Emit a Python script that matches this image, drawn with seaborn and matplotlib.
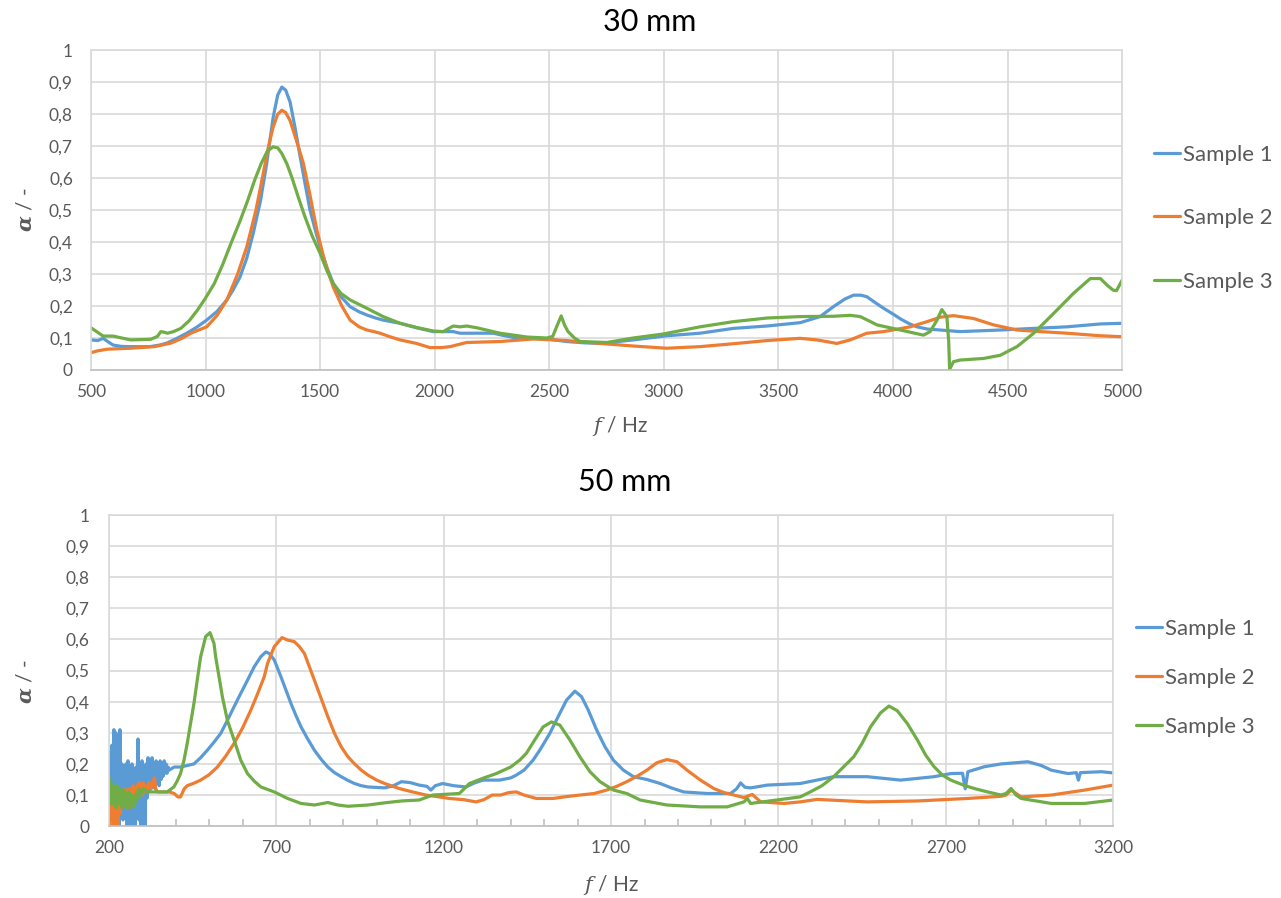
import numpy as np
import pandas as pd
import seaborn as sns
import matplotlib.pyplot as plt
from matplotlib.ticker import FuncFormatter, MultipleLocator

# ---- 30 mm ----
f30_s1 = [500, 530, 553, 575, 597, 630, 656, 757, 800, 831, 870, 918, 960, 1005, 1050, 1093, 1120, 1150, 1180,
          1208, 1240, 1267, 1295, 1315, 1333, 1350, 1369, 1390, 1413, 1435, 1456, 1480, 1500, 1530, 1557, 1590,
          1631, 1670, 1704, 1740, 1775, 1849, 1921, 1994, 2081, 2110, 2140, 2256, 2300, 2358, 2490, 2576, 2650,
          2723, 2866, 3012, 3158, 3302, 3450, 3595, 3682, 3740, 3790, 3828, 3860, 3886, 3920, 3959, 4000, 4032,
          4070, 4104, 4150, 4206, 4293, 4468, 4614, 4759, 4905, 5000]
a30_s1 = [0.094, 0.092, 0.099, 0.088, 0.078, 0.074, 0.073, 0.073, 0.078, 0.084, 0.097, 0.115, 0.133, 0.156, 0.183,
          0.219, 0.25, 0.29, 0.35, 0.427, 0.53, 0.646, 0.79, 0.86, 0.885, 0.875, 0.838, 0.76, 0.667, 0.58, 0.5,
          0.435, 0.385, 0.32, 0.271, 0.23, 0.198, 0.182, 0.172, 0.163, 0.156, 0.146, 0.132, 0.12, 0.12, 0.115,
          0.115, 0.115, 0.108, 0.1, 0.097, 0.089, 0.085, 0.083, 0.094, 0.107, 0.115, 0.13, 0.1375, 0.148, 0.167,
          0.198, 0.222, 0.234, 0.234, 0.229, 0.212, 0.193, 0.175, 0.16, 0.145, 0.135, 0.128, 0.125, 0.12, 0.125,
          0.13, 0.135, 0.144, 0.146]

f30_s2 = [500, 530, 571, 673, 776, 849, 900, 936, 1005, 1050, 1093, 1140, 1180, 1220, 1252, 1275, 1295, 1315,
          1333, 1350, 1369, 1400, 1427, 1455, 1486, 1520, 1557, 1595, 1631, 1670, 1704, 1735, 1762, 1800, 1849,
          1921, 1979, 2030, 2067, 2140, 2285, 2431, 2576, 2723, 2866, 3012, 3158, 3302, 3450, 3595, 3668, 3755,
          3813, 3886, 3959, 4075, 4148, 4206, 4264, 4352, 4439, 4541, 4643, 4759, 4905, 5000]
a30_s2 = [0.054, 0.06, 0.065, 0.068, 0.073, 0.084, 0.1, 0.115, 0.135, 0.17, 0.219, 0.3, 0.385, 0.5, 0.615, 0.7,
          0.76, 0.8, 0.8125, 0.805, 0.78, 0.71, 0.646, 0.55, 0.437, 0.34, 0.26, 0.2, 0.156, 0.135, 0.125, 0.12,
          0.115, 0.105, 0.094, 0.083, 0.07, 0.07, 0.073, 0.086, 0.089, 0.097, 0.092, 0.083, 0.075, 0.068, 0.073,
          0.082, 0.092, 0.099, 0.094, 0.083, 0.094, 0.115, 0.12, 0.135, 0.151, 0.165, 0.17, 0.161, 0.141, 0.125,
          0.12, 0.115, 0.107, 0.104]

f30_s3 = [500, 525, 553, 597, 635, 673, 761, 790, 805, 820, 834, 860, 892, 930, 965, 1000, 1038, 1075, 1111,
          1150, 1184, 1215, 1243, 1270, 1295, 1315, 1333, 1355, 1376, 1405, 1434, 1465, 1500, 1530, 1557, 1590,
          1631, 1704, 1775, 1849, 1920, 1994, 2037, 2081, 2110, 2140, 2184, 2285, 2403, 2490, 2515, 2535, 2552,
          2567, 2582, 2610, 2634, 2752, 2866, 2997, 3158, 3302, 3450, 3595, 3740, 3813, 3857, 3900, 3930, 4032,
          4133, 4162, 4192, 4213, 4235, 4243, 4247, 4264, 4293, 4395, 4468, 4541, 4614, 4701, 4788, 4861, 4905,
          4935, 4960, 4975, 5000]
a30_s3 = [0.132, 0.12, 0.106, 0.106, 0.1, 0.094, 0.096, 0.105, 0.12, 0.118, 0.115, 0.12, 0.13, 0.155, 0.1875,
          0.225, 0.27, 0.33, 0.396, 0.465, 0.53, 0.595, 0.646, 0.685, 0.698, 0.695, 0.677, 0.645, 0.604, 0.54,
          0.479, 0.42, 0.365, 0.31, 0.271, 0.24, 0.219, 0.193, 0.167, 0.146, 0.133, 0.122, 0.12, 0.1375, 0.135,
          0.1375, 0.132, 0.115, 0.103, 0.1, 0.105, 0.14, 0.169, 0.14, 0.12, 0.1, 0.089, 0.086, 0.1, 0.1125, 0.135,
          0.151, 0.1625, 0.167, 0.168, 0.171, 0.167, 0.152, 0.141, 0.125, 0.109, 0.12, 0.156, 0.189, 0.167, 0.09,
          0.002, 0.026, 0.031, 0.036, 0.046, 0.073, 0.115, 0.177, 0.24, 0.286, 0.286, 0.265, 0.25, 0.248, 0.281]

# ---- 50 mm ----
f50_s1 = [200, 203, 206, 209, 212, 215, 218, 221, 224, 227, 230, 233, 236, 239, 242, 245, 248, 251, 254, 257,
          260, 263, 266, 269, 272, 275, 278, 281, 284, 287, 290, 293, 296, 299, 302, 305, 308, 311, 314, 317,
          320, 323, 326, 329, 332, 335, 338, 341, 344, 347, 350, 353, 356, 359, 362, 365, 368, 371, 374, 377,
          380, 395, 414, 434, 454, 474, 494, 514, 534, 554, 574, 594, 614, 634, 654, 669, 679, 694, 714, 729,
          744, 759, 774, 794, 814, 834, 854, 874, 894, 914, 934, 954, 974, 1024, 1050, 1074, 1100, 1127, 1150,
          1162, 1175, 1197, 1230, 1267, 1290, 1317, 1367, 1400, 1417, 1440, 1467, 1487, 1517, 1542, 1567, 1592,
          1612, 1632, 1657, 1682, 1707, 1737, 1767, 1807, 1847, 1880, 1917, 1987, 2057, 2075, 2087, 2100, 2117,
          2167, 2265, 2365, 2465, 2565, 2665, 2715, 2750, 2758, 2766, 2815, 2865, 2945, 2985, 3015, 3065, 3090,
          3096, 3102, 3165, 3200]
a50_s1 = [0.12, 0.24, 0.05, 0.26, 0.02, 0.31, 0.06, 0.30, 0.03, 0.22, 0.0, 0.31, 0.08, 0.20, 0.02, 0.19, 0.05,
          0.20, 0.0, 0.21, 0.03, 0.18, 0.0, 0.20, 0.06, 0.17, 0.0, 0.19, 0.04, 0.28, 0.02, 0.20, 0.0, 0.21, 0.05,
          0.19, 0.0, 0.20, 0.09, 0.22, 0.11, 0.19, 0.12, 0.22, 0.13, 0.20, 0.12, 0.21, 0.14, 0.20, 0.13, 0.21,
          0.15, 0.20, 0.16, 0.21, 0.17, 0.20, 0.17, 0.19, 0.18, 0.19, 0.19, 0.195, 0.2, 0.22, 0.244, 0.27, 0.298,
          0.34, 0.384, 0.427, 0.469, 0.512, 0.545, 0.56, 0.555, 0.534, 0.48, 0.437, 0.394, 0.355, 0.319, 0.28,
          0.244, 0.215, 0.19, 0.172, 0.159, 0.147, 0.137, 0.13, 0.126, 0.123, 0.13, 0.143, 0.14, 0.132, 0.128,
          0.116, 0.13, 0.137, 0.13, 0.126, 0.138, 0.148, 0.148, 0.155, 0.164, 0.18, 0.212, 0.244, 0.298, 0.352,
          0.405, 0.434, 0.416, 0.373, 0.309, 0.255, 0.212, 0.18, 0.159, 0.15, 0.137, 0.123, 0.11, 0.105, 0.105,
          0.12, 0.139, 0.125, 0.123, 0.132, 0.137, 0.159, 0.159, 0.148, 0.159, 0.169, 0.17, 0.12, 0.175, 0.191,
          0.2, 0.207, 0.195, 0.18, 0.169, 0.172, 0.148, 0.172, 0.175, 0.171]

f50_s2 = [200, 203, 206, 209, 212, 215, 218, 221, 224, 227, 230, 233, 236, 239, 242, 245, 248, 251, 254, 257,
          260, 263, 266, 269, 272, 275, 278, 281, 284, 287, 290, 293, 296, 299, 302, 305, 310, 315, 320, 325,
          330, 336, 340, 345, 360, 380, 395, 406, 414, 425, 434, 454, 474, 499, 524, 549, 574, 599, 624, 644,
          664, 674, 694, 717, 734, 754, 769, 784, 799, 814, 834, 854, 874, 894, 914, 934, 954, 974, 1000, 1024,
          1067, 1107, 1147, 1187, 1217, 1260, 1297, 1320, 1345, 1370, 1395, 1417, 1440, 1477, 1527, 1567, 1607,
          1650, 1687, 1717, 1747, 1777, 1807, 1837, 1867, 1897, 1927, 1967, 2007, 2037, 2067, 2097, 2122, 2147,
          2217, 2265, 2315, 2465, 2615, 2765, 2865, 2880, 2895, 2910, 2925, 3015, 3115, 3200]
a50_s2 = [0.05, 0.0, 0.08, 0.02, 0.09, 0.0, 0.07, 0.03, 0.09, 0.0, 0.08, 0.04, 0.1, 0.06, 0.11, 0.07, 0.12,
          0.08, 0.11, 0.06, 0.12, 0.08, 0.12, 0.09, 0.13, 0.1, 0.12, 0.09, 0.13, 0.1, 0.14, 0.11, 0.13, 0.1,
          0.14, 0.11, 0.13, 0.12, 0.14, 0.12, 0.14, 0.155, 0.12, 0.11, 0.11, 0.11, 0.105, 0.094, 0.094, 0.12,
          0.13, 0.138, 0.148, 0.165, 0.19, 0.225, 0.266, 0.315, 0.373, 0.425, 0.48, 0.523, 0.577, 0.606, 0.598,
          0.593, 0.577, 0.555, 0.512, 0.469, 0.41, 0.352, 0.298, 0.255, 0.223, 0.2, 0.18, 0.164, 0.148, 0.137,
          0.121, 0.11, 0.1, 0.094, 0.089, 0.085, 0.078, 0.085, 0.1, 0.1, 0.108, 0.11, 0.1, 0.089, 0.089, 0.095,
          0.1, 0.105, 0.116, 0.128, 0.143, 0.16, 0.18, 0.204, 0.214, 0.207, 0.18, 0.148, 0.121, 0.108, 0.1, 0.092,
          0.102, 0.078, 0.073, 0.078, 0.086, 0.078, 0.081, 0.089, 0.096, 0.1, 0.116, 0.105, 0.094, 0.1, 0.116,
          0.132]

f50_s3 = [200, 203, 206, 209, 212, 215, 218, 221, 224, 227, 230, 233, 236, 239, 242, 245, 248, 251, 254, 257,
          260, 263, 266, 269, 272, 275, 278, 281, 284, 287, 290, 295, 304, 315, 334, 374, 394, 404, 414, 424,
          434, 444, 454, 464, 474, 489, 502, 514, 519, 529, 539, 554, 574, 594, 614, 634, 654, 694, 734, 774,
          814, 854, 884, 914, 974, 1024, 1074, 1127, 1167, 1247, 1277, 1320, 1357, 1400, 1427, 1447, 1472, 1497,
          1522, 1547, 1577, 1607, 1637, 1667, 1707, 1747, 1787, 1867, 1967, 2047, 2097, 2107, 2117, 2265, 2295,
          2330, 2365, 2395, 2425, 2450, 2475, 2505, 2530, 2555, 2585, 2615, 2640, 2665, 2690, 2715, 2750, 2785,
          2825, 2865, 2880, 2895, 2910, 2925, 3015, 3115, 3200]
a50_s3 = [0.16, 0.09, 0.14, 0.07, 0.13, 0.08, 0.12, 0.06, 0.13, 0.07, 0.12, 0.08, 0.11, 0.06, 0.12, 0.07, 0.11,
          0.06, 0.1, 0.07, 0.11, 0.06, 0.1, 0.07, 0.1, 0.062, 0.09, 0.08, 0.11, 0.09, 0.12, 0.1, 0.12, 0.11, 0.11,
          0.11, 0.126, 0.145, 0.169, 0.21, 0.266, 0.33, 0.394, 0.47, 0.544, 0.609, 0.622, 0.587, 0.544, 0.48,
          0.416, 0.34, 0.277, 0.212, 0.169, 0.145, 0.126, 0.11, 0.089, 0.073, 0.068, 0.076, 0.068, 0.064, 0.068,
          0.075, 0.081, 0.084, 0.1, 0.105, 0.137, 0.155, 0.169, 0.19, 0.212, 0.234, 0.277, 0.319, 0.335, 0.325,
          0.277, 0.223, 0.175, 0.143, 0.116, 0.105, 0.084, 0.068, 0.062, 0.062, 0.078, 0.089, 0.073, 0.094, 0.11,
          0.13, 0.159, 0.191, 0.223, 0.266, 0.319, 0.364, 0.386, 0.371, 0.33, 0.277, 0.228, 0.191, 0.164, 0.148,
          0.133, 0.121, 0.11, 0.1, 0.105, 0.121, 0.1, 0.089, 0.073, 0.073, 0.084]

samples = ['Sample 1', 'Sample 2', 'Sample 3']
colors = ['#5B9BD5', '#ED7D31', '#70AD47']
grey = '#595959'


def long_df(freqs, vals):
    parts = []
    for name, f, a in zip(samples, freqs, vals):
        parts.append(pd.DataFrame({'f': f, 'alpha': a, 'sample': name}))
    return pd.concat(parts, ignore_index=True)


df30 = long_df([f30_s1, f30_s2, f30_s3], [a30_s1, a30_s2, a30_s3])
df50 = long_df([f50_s1, f50_s2, f50_s3], [a50_s1, a50_s2, a50_s3])

sns.set_theme(style='white')
plt.rcParams['font.family'] = ['Lato', 'DejaVu Sans']
plt.rcParams['mathtext.fontset'] = 'dejavuserif'

fig = plt.figure(figsize=(12.81, 8.98), dpi=100)
ax1 = fig.add_axes([0.071, 0.588, 0.805, 0.356])
ax2 = fig.add_axes([0.085, 0.080, 0.784, 0.3465])

comma = FuncFormatter(lambda v, p: ('%g' % round(v, 1)).replace('.', ','))

for ax, df, xlim in [(ax1, df30, (500, 5000)), (ax2, df50, (200, 3200))]:
    sns.lineplot(data=df, x='f', y='alpha', hue='sample', palette=colors, estimator=None,
                 linewidth=2.3, legend=False, ax=ax)
    ax.set_xlim(*xlim)
    ax.set_ylim(0, 1)
    ax.yaxis.set_major_locator(MultipleLocator(0.1))
    ax.yaxis.set_major_formatter(comma)
    ax.grid(True, color='#D9D9D9', linewidth=1.2)
    ax.set_axisbelow(True)
    for s in ['top', 'right', 'left']:
        ax.spines[s].set_color('#D9D9D9')
        ax.spines[s].set_linewidth(1.2)
    ax.spines['bottom'].set_color('#BFBFBF')
    ax.spines['bottom'].set_linewidth(1.2)
    ax.set_xlabel('')
    ax.set_ylabel('')
    ax.tick_params(axis='both', which='major', length=0, labelsize=12.5, labelcolor=grey)
    ax.tick_params(axis='y', pad=13)
    ax.tick_params(axis='x', pad=10)

ax1.xaxis.set_major_locator(MultipleLocator(500))
ax2.set_xticks(np.arange(200, 3201, 500))
ax2.xaxis.set_minor_locator(MultipleLocator(100))
ax2.tick_params(axis='x', which='minor', bottom=True, direction='in', length=5, width=1.2, color='#BFBFBF')
ax2.tick_params(axis='y', pad=14)

# titles and axis labels
fig.text(0.507, 0.975, '30 mm', ha='center', va='center', fontsize=22, color='black')
fig.text(0.488, 0.463, '50 mm', ha='center', va='center', fontsize=22, color='black')
fig.text(0.484, 0.526, r'$f$ / Hz', ha='center', va='center', fontsize=15, color=grey)
fig.text(0.477, 0.0145, r'$f$ / Hz', ha='center', va='center', fontsize=15, color=grey)
fig.text(0.020, 0.767, r'$\mathbfit{\alpha}$ / -', ha='center', va='center', rotation=90, fontsize=15, color=grey)
fig.text(0.020, 0.241, r'$\mathbfit{\alpha}$ / -', ha='center', va='center', rotation=90, fontsize=15, color=grey)

# legends
for ax, anchor, spacing in [(ax1, (0.8925, 0.757), 1.95), (ax2, (0.8785, 0.245), 1.3)]:
    leg = fig.legend(ax.get_lines()[:3], samples, loc='center left', bbox_to_anchor=anchor, frameon=False,
                     fontsize=16, labelspacing=spacing, handlelength=1.15, handletextpad=0.12, borderpad=0)
    for t in leg.get_texts():
        t.set_color(grey)

fig.savefig('out.png', dpi=100)
